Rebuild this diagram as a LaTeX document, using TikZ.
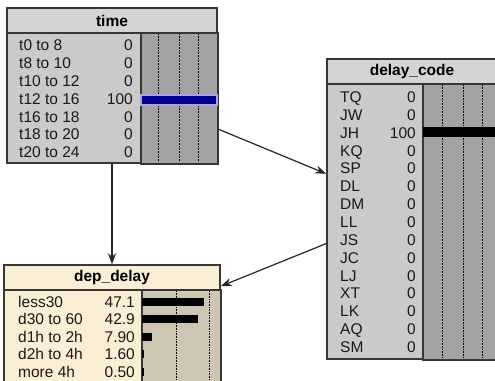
\documentclass[tikz,border=0pt]{standalone}
\usepackage{fontspec}
\setmainfont{Liberation Sans}
\usetikzlibrary{arrows.meta}

\definecolor{titlegray}{RGB}{212,212,212}
\definecolor{bodygray}{RGB}{202,202,202}
\definecolor{bargray}{RGB}{163,163,163}
\definecolor{titlecream}{RGB}{250,238,212}
\definecolor{bartan}{RGB}{206,197,178}
\definecolor{edgegray}{RGB}{55,55,55}
\definecolor{beliefblue}{RGB}{0,0,140}
\definecolor{beliefrim}{RGB}{165,165,225}

\begin{document}
\begin{tikzpicture}[
        x=1pt, y=-1pt,
        >={Stealth[length=11pt,width=8pt]},
        netbox/.style={
            rectangle,
            draw=edgegray,
            line width=1.5pt,
            inner sep=0pt
        },
        titlebar/.style={
            netbox,
            anchor=north,
            minimum height=25pt,
            font=\fontsize{15.5pt}{18pt}\selectfont\bfseries
        },
        statename/.style={
            anchor=west,
            inner sep=0pt,
            text height=11pt,
            text depth=0pt,
            text=black!90,
            font=\fontsize{15.5pt}{18pt}\selectfont
        },
        stateval/.style={statename, anchor=east},
        barzone/.style={draw=edgegray, line width=1.5pt},
        gridline/.style={densely dotted, black, line width=0.6pt},
        link/.style={->, line width=1.2pt, draw=black!85}
    ]

    \clip (0,0) rectangle (495,380);
    \fill[white] (0,0) rectangle (495,380);

    % time
    \node[netbox, fill=bodygray, minimum width=210pt, minimum height=155pt] (time) at (112,85.5) {};
    \node[titlebar, fill=titlegray, minimum width=210pt] (timetitle) at (time.north) {time};
    \draw[barzone, fill=bargray] (141,33) rectangle (time.south east);
    \foreach \x in {158,179,198}
        \draw[gridline] (\x,34) -- (\x,162);
    \draw[fill=beliefblue, draw=beliefrim, line width=2pt] (141,95) rectangle (217,105);
    \foreach \lab/\val [count=\i] in {t0 to 8/0, t8 to 10/0, t10 to 12/0, t12 to 16/100, t16 to 18/0, t18 to 20/0, t20 to 24/0} {
        \node[statename] (time\i) at (19,27+17.9*\i) {\lab};
        \node[stateval] (timev\i) at (133,27+17.9*\i) {\val};
    }

    % delay_code
    \node[netbox, fill=bodygray, minimum width=170pt, minimum height=300pt] (delay) at (412,209) {};
    \node[titlebar, fill=titlegray, minimum width=170pt] (delaytitle) at (delay.north) {delay\_code};
    \draw[barzone, fill=bargray] (423,84) rectangle (delay.south east);
    \foreach \x in {442,463,482}
        \draw[gridline] (\x,85) -- (\x,358);
    \fill[black] (423,127) rectangle (497,137);
    \foreach \lab/\val [count=\i] in {TQ/0, JW/0, JH/100, KQ/0, SP/0, DL/0, DM/0, LL/0, JS/0, JC/0, LJ/0, XT/0, LK/0, AQ/0, SM/0} {
        \node[statename] (delay\i) at (340,79.14+17.86*\i) {\lab};
        \node[stateval] (delayv\i) at (416,79.14+17.86*\i) {\val};
    }

    % dep_delay
    \node[netbox, fill=titlecream, minimum width=216pt, minimum height=130pt] (dep) at (112,330) {};
    \node[titlebar, fill=titlecream, minimum width=216pt] (deptitle) at (dep.north) {dep\_delay};
    \draw[barzone, fill=bartan] (142,290) rectangle (dep.south east);
    \foreach \x in {176,209}
        \draw[gridline] (\x,291) -- (\x,394);
    \foreach \lab/\val [count=\i] in {less30/47.1, d30 to 60/42.9, d1h to 2h/7.90, d2h to 4h/1.60, more 4h/0.50} {
        \node[statename] (dep\i) at (18,284.5+17.4*\i) {\lab};
        \node[stateval] (depv\i) at (135,284.5+17.4*\i) {\val};
        \pgfmathsetmacro{\bw}{max(1.31*\val,2)}
        \fill[black] (142,280.5+17.4*\i) rectangle ++(\bw,8);
    }

    \draw[link] (time) -- (delay);
    \draw[link] (delay) -- (dep);
    \draw[link] (time) -- (dep);

\end{tikzpicture}
\end{document}
